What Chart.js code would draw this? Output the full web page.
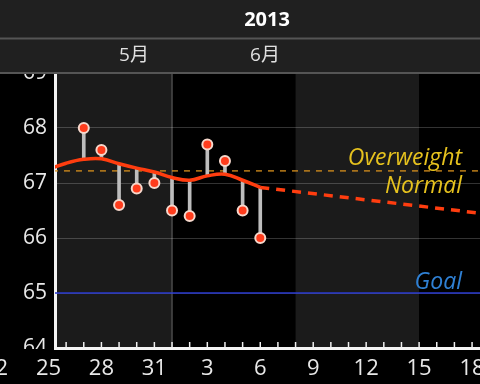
<!DOCTYPE html>
<html>
<head>
<meta charset="utf-8">
<script src="https://cdn.jsdelivr.net/npm/chart.js@4"></script>
<style>
  html, body { margin: 0; padding: 0; background: #000; }
  #wrap { width: 480px; height: 384px; position: relative; }
</style>
</head>
<body>
<div id="wrap"><canvas id="myChart" width="480" height="384"></canvas></div>
<script>
// weigh-ins
const weighDates = ['2013-05-27', '2013-05-28', '2013-05-29', '2013-05-30', '2013-05-31', '2013-06-01',
                    '2013-06-02', '2013-06-03', '2013-06-04', '2013-06-05', '2013-06-06'];
const weights = [68.0, 67.6, 66.6, 66.9, 67.0, 66.5, 66.4, 67.7, 67.4, 66.5, 66.0];

// smoothed trend
const trendDates = ['2013-05-24', '2013-05-25', '2013-05-26', '2013-05-27', '2013-05-28', '2013-05-29', '2013-05-30',
                    '2013-05-31', '2013-06-01', '2013-06-02', '2013-06-03', '2013-06-04', '2013-06-05', '2013-06-06'];
const trend = [67.15, 67.25, 67.36, 67.43, 67.44, 67.35, 67.27, 67.2, 67.1, 67.05, 67.13, 67.16, 67.05, 66.92];

// projection (dashed)
const projectionDates = ['2013-06-06', '2013-06-19'];
const projection = [66.92, 66.43];

const overweightLimit = 67.22;
const goalWeight = 65.0;

const yTickLabels = [64, 65, 66, 67, 68, 69];
const xTickDates = ['2013-05-22', '2013-05-25', '2013-05-28', '2013-05-31', '2013-06-03', '2013-06-06',
                    '2013-06-09', '2013-06-12', '2013-06-15', '2013-06-18', '2013-06-21'];
const weekStarts = ['2013-05-18', '2013-05-25', '2013-06-01', '2013-06-08', '2013-06-15', '2013-06-22'];
const monthStarts = ['2013-06-01'];
const headerYear = '2013';
const monthLabels = ['5月', '6月'];

const startMs = Date.parse('2013-05-25');
function dayOf(s) { return (Date.parse(s) - startMs) / 86400000; }
function trendAt(s) { return trend[trendDates.indexOf(s)]; }

const FONT = '"Open Sans", "Noto Sans CJK JP", sans-serif';

const drawExtras = {
  id: 'drawExtras',
  beforeDraw(chart) {
    const { ctx, chartArea: a, scales: { x } } = chart;
    ctx.save();
    ctx.fillStyle = '#000';
    ctx.fillRect(0, 0, chart.width, chart.height);
    ctx.beginPath();
    ctx.rect(a.left, a.top, a.right - a.left, a.bottom - a.top);
    ctx.clip();
    // alternating weeks
    for (let i = 0; i < weekStarts.length - 1; i++) {
      const x0 = x.getPixelForValue(dayOf(weekStarts[i]));
      const x1 = x.getPixelForValue(dayOf(weekStarts[i + 1]));
      ctx.fillStyle = (i % 2 === 1) ? '#1b1b1b' : '#000';
      ctx.fillRect(x0, a.top, x1 - x0, a.bottom - a.top);
    }
    // month boundary
    ctx.strokeStyle = '#4a4a4a';
    ctx.lineWidth = 1.5;
    monthStarts.forEach(m => {
      const px = x.getPixelForValue(dayOf(m));
      ctx.beginPath();
      ctx.moveTo(px, a.top);
      ctx.lineTo(px, a.bottom);
      ctx.stroke();
    });
    ctx.restore();
  },
  afterDatasetsDraw(chart) {
    const { ctx, chartArea: a, scales: { y } } = chart;
    ctx.save();
    ctx.font = 'italic 23px ' + FONT;
    ctx.textAlign = 'right';
    ctx.textBaseline = 'alphabetic';
    const yo = y.getPixelForValue(overweightLimit);
    ctx.fillStyle = '#e6c21e';
    ctx.fillText('Overweight', a.right - 18, yo - 6);
    ctx.fillText('Normal', a.right - 18, yo + 22);
    ctx.fillStyle = '#2f80d4';
    ctx.fillText('Goal', a.right - 18, y.getPixelForValue(goalWeight) - 4);
    ctx.restore();
  },
  afterDraw(chart) {
    const { ctx, chartArea: a, scales: { x } } = chart;
    ctx.save();
    // y labels are cut at the bottom axis
    ctx.fillStyle = '#000';
    ctx.fillRect(0, a.bottom + 1, a.left - 2, chart.height - a.bottom);
    // small day ticks
    ctx.strokeStyle = '#f0f0f0';
    ctx.lineWidth = 1.5;
    for (let d = Math.ceil(x.min); d <= x.max; d++) {
      const px = x.getPixelForValue(d);
      if (px <= a.left + 2) continue;
      ctx.beginPath();
      ctx.moveTo(px, a.bottom);
      ctx.lineTo(px, a.bottom - 6);
      ctx.stroke();
    }
    // day labels
    ctx.fillStyle = '#e8e8e8';
    ctx.font = '22px ' + FONT;
    ctx.textAlign = 'center';
    ctx.textBaseline = 'middle';
    xTickDates.forEach(s => {
      ctx.fillText(String(new Date(Date.parse(s)).getUTCDate()), x.getPixelForValue(dayOf(s)), a.bottom + 21);
    });
    // header
    ctx.fillStyle = '#202020';
    ctx.fillRect(0, 0, chart.width, a.top);
    ctx.fillStyle = '#555';
    ctx.fillRect(0, 37.5, chart.width, 2);
    ctx.fillRect(0, a.top - 1, chart.width, 2);
    ctx.fillStyle = '#fff';
    ctx.font = 'bold 20px ' + FONT;
    ctx.fillText(headerYear, 267, 20);
    ctx.fillStyle = '#e0e0e0';
    ctx.font = '19px ' + FONT;
    ctx.fillText(monthLabels[0], 134, 56);
    ctx.fillText(monthLabels[1], 265, 56);
    ctx.restore();
  }
};

const chartArea = document.getElementById('myChart').getContext('2d');
const myChart = new Chart(chartArea, {
  type: 'line',
  data: {
    datasets: [{
      // dots
      type: 'line',
      data: weighDates.map((d, i) => ({ x: dayOf(d), y: weights[i] })),
      showLine: false,
      pointRadius: 5,
      pointBorderWidth: 2,
      pointBackgroundColor: '#ff3c1c',
      pointBorderColor: '#f6d8cc',
      order: 0
    }, {
      // trend
      type: 'line',
      data: trendDates.map((d, i) => ({ x: dayOf(d), y: trend[i] })),
      borderColor: '#ff3d0f',
      borderWidth: 3.5,
      tension: 0.4,
      pointRadius: 0,
      order: 1
    }, {
      type: 'line',
      data: projectionDates.map((d, i) => ({ x: dayOf(d), y: projection[i] })),
      borderColor: '#ff3d0f',
      borderWidth: 3.5,
      borderDash: [9, 7],
      pointRadius: 0,
      order: 1
    }, {
      // stems between trend and weigh-in
      type: 'bar',
      data: weighDates.map((d, i) => ({ x: dayOf(d), y: [trendAt(d), weights[i]] })),
      backgroundColor: '#bdbdbd',
      barThickness: 3,
      order: 2
    }, {
      type: 'line',
      data: [{ x: -10, y: overweightLimit }, { x: 40, y: overweightLimit }],
      borderColor: '#d8901c',
      borderWidth: 1.3,
      borderDash: [6, 6],
      pointRadius: 0,
      order: 3
    }, {
      type: 'line',
      data: [{ x: -10, y: goalWeight }, { x: 40, y: goalWeight }],
      borderColor: '#2a3ad0',
      borderWidth: 1.5,
      pointRadius: 0,
      order: 3
    }]
  },
  options: {
    responsive: false,
    animation: false,
    layout: { autoPadding: false, padding: { top: 73, right: 0, left: 0, bottom: 0 } },
    scales: {
      x: {
        type: 'linear',
        offset: false,
        min: 0.37,
        max: 24.45,
        ticks: { display: false },
        grid: { display: false },
        border: { display: true, color: '#f4f4f4', width: 3 },
        afterFit: function (scale) { scale.height = 36; }
      },
      y: {
        min: 64,
        max: 69,
        ticks: {
          stepSize: 0.5,
          color: '#e8e8e8',
          font: { family: FONT, size: 21 },
          padding: 8,
          callback: v => yTickLabels.includes(v) ? String(v) : ''
        },
        grid: { color: 'rgba(255,255,255,0.2)', drawTicks: false },
        border: { display: true, color: '#f4f4f4', width: 3 },
        afterFit: function (scale) { scale.width = 55; }
      }
    },
    plugins: {
      legend: { display: false },
      tooltip: { enabled: false }
    }
  },
  plugins: [drawExtras]
});
</script>
</body>
</html>
